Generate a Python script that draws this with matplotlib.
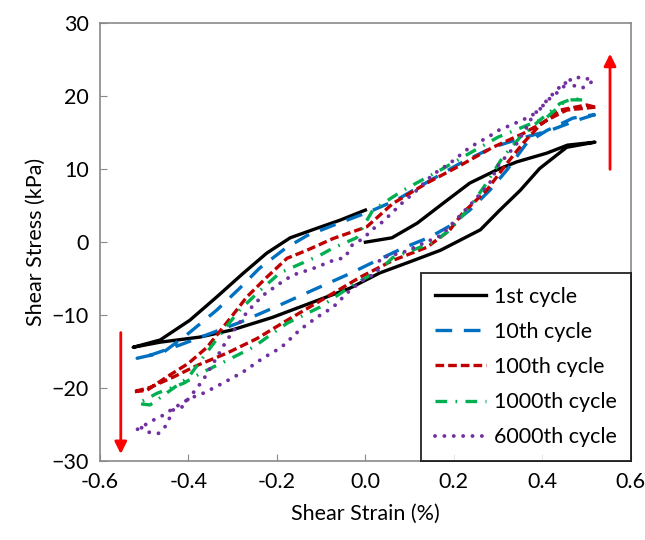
import matplotlib
matplotlib.use("Agg")
from matplotlib import pyplot as plt

plt.rcParams['font.family'] = ['Lato', 'DejaVu Sans']

# 1st cycle
x1 = [0.0, 0.06, 0.117, 0.175, 0.236, 0.297, 0.342, 0.41, 0.457, 0.519,
      0.455, 0.394, 0.35, 0.304, 0.26, 0.17, 0.10, 0.033, -0.035, -0.118, -0.21, -0.30, -0.374, -0.464, -0.525,
      -0.464, -0.397, -0.336, -0.277, -0.223, -0.17, -0.11, -0.058, 0.0]
y1 = [0.0, 0.6, 2.6, 5.3, 8.1, 9.9, 11.0, 12.2, 13.3, 13.7,
      13.0, 10.1, 7.1, 4.4, 1.7, -1.1, -2.7, -4.2, -6.3, -8.2, -10.3, -12.0, -13.0, -13.7, -14.4,
      -13.4, -10.7, -7.5, -4.3, -1.5, 0.6, 1.9, 3.0, 4.4]

# 10th cycle
x10 = [0.52, 0.478, 0.417, 0.35, 0.288, 0.214, 0.139, 0.071, 0.01, -0.073, -0.132, -0.18, -0.24, -0.284,
       -0.336, -0.40, -0.457, -0.516, -0.487, -0.42, -0.35, -0.284, -0.193, -0.12, -0.035, 0.026, 0.085,
       0.146, 0.19, 0.236, 0.281, 0.32, 0.365, 0.41, 0.469, 0.52]
y10 = [17.5, 16.7, 15.3, 14.2, 13.0, 10.8, 8.2, 5.8, 4.2, 2.3, 0.9, -0.8, -3.6, -6.3,
       -9.3, -12.5, -15.1, -15.9, -15.5, -14.1, -12.5, -11.0, -8.6, -6.6, -4.3, -2.5, -0.8,
       0.7, 2.2, 4.4, 7.1, 9.9, 13.6, 15.3, 17.0, 17.5]

# 100th cycle
x100 = [0.52, 0.455, 0.41, 0.357, 0.288, 0.214, 0.139, 0.062, 0.003, -0.073, -0.132, -0.177, -0.223,
        -0.268, -0.313, -0.358, -0.40, -0.45, -0.494, -0.525, -0.487, -0.435, -0.381, -0.313, -0.245,
        -0.177, -0.087, -0.012, 0.062, 0.139, 0.19, 0.22, 0.274, 0.32, 0.357, 0.394, 0.44, 0.5, 0.52]
y100 = [18.5, 18.1, 16.7, 14.9, 13.0, 10.5, 8.1, 5.3, 2.1, 0.5, -1.1, -2.2, -4.8,
        -7.5, -11.0, -14.4, -16.6, -18.5, -20.3, -20.5, -19.9, -18.5, -16.9, -15.2, -13.2,
        -10.7, -7.5, -4.8, -2.5, -0.7, 1.6, 4.0, 7.1, 10.8, 13.6, 16.0, 18.1, 18.8, 18.5]

# 1000th cycle
x1000 = [0.49, 0.455, 0.41, 0.365, 0.30, 0.236, 0.17, 0.085, 0.017, -0.02, -0.073, -0.103, -0.193,
         -0.238, -0.284, -0.32, -0.367, -0.40, -0.45, -0.487, -0.514, -0.471, -0.41, -0.374, -0.313,
         -0.254, -0.177, -0.103, -0.029, 0.033, 0.062, 0.15, 0.19, 0.236, 0.274, 0.31, 0.35, 0.394,
         0.44, 0.47, 0.49]
y1000 = [19.5, 19.5, 17.1, 16.0, 14.4, 12.2, 9.9, 7.1, 4.4, 0.6, -0.8, -1.8, -4.2,
         -6.6, -9.3, -12.0, -15.8, -18.5, -20.7, -22.3, -22.1, -20.7, -19.3, -18.0, -16.2,
         -14.4, -11.1, -8.9, -5.9, -3.8, -2.1, -0.1, 1.6, 4.8, 8.1, 11.6, 14.4, 16.7,
         19.0, 19.7, 19.5]

# 6000th cycle
x6000 = [0.51, 0.49, 0.447, 0.433, 0.413, 0.398, 0.377, 0.354, 0.30, 0.28, 0.236, 0.195, 0.151, 0.116,
         0.078, 0.06, 0.037, 0.017, -0.005, -0.03, -0.046, -0.073, -0.118, -0.164, -0.19, -0.232,
         -0.268, -0.284, -0.313, -0.34, -0.367, -0.385, -0.415, -0.435, -0.45, -0.468, -0.494,
         -0.505, -0.52, -0.48, -0.457, -0.435, -0.397, -0.367, -0.344, -0.322, -0.277, -0.232, -0.19,
         -0.148, -0.11, -0.073, -0.035, -0.005, 0.026, 0.033, 0.085, 0.17, 0.21, 0.243, 0.281, 0.30,
         0.32, 0.34, 0.365, 0.379, 0.398, 0.417, 0.44, 0.469, 0.5, 0.51]
y6000 = [21.9, 21.1, 21.9, 20.8, 19.7, 18.4, 17.4, 16.7, 15.3, 14.5, 13.0, 11.0, 9.2, 7.1,
         5.1, 4.0, 2.7, 1.8, 0.5, -0.4, -2.1, -2.5, -3.6, -4.5, -5.5, -7.3,
         -9.6, -11.0, -13.4, -16.2, -18.9, -20.3, -22.6, -23.0, -25.1, -26.2, -26.0,
         -25.4, -25.8, -24.4, -23.7, -22.8, -21.4, -20.7, -20.0, -19.3, -17.8, -15.9, -14.4,
         -12.0, -10.3, -8.9, -6.6, -5.2, -4.2, -2.2, -1.4, 0.9, 3.4, 5.5, 8.1, 10.5,
         11.9, 13.3, 15.8, 17.4, 18.5, 19.7, 20.8, 22.6, 22.5, 21.9]

xticks = [-0.6, -0.4, -0.2, 0.0, 0.2, 0.4, 0.6]
yticks = [-30, -20, -10, 0, 10, 20, 30]

fig = plt.figure(figsize=(6.45, 5.4), dpi=100)
ax = fig.add_axes([0.155, 0.146, 0.823, 0.811])

lw = 2.4
ax.plot(x1, y1, color='black', lw=lw, label='1st cycle')
ax.plot(x10, y10, color='#0070C0', lw=lw, dashes=(5, 3.5), label='10th cycle')
ax.plot(x100, y100, color='#C00000', lw=lw, dashes=(2.6, 1.2), label='100th cycle')
ax.plot(x1000, y1000, color='#00B050', lw=lw, dashes=(3.5, 2.5, 0.5, 2.5), label='1000th cycle')
ax.plot(x6000, y6000, color='#7030A0', lw=lw + 0.4, dashes=(0.01, 2.4), dash_capstyle='round',
        label='6000th cycle')

# loading direction arrows
ax.annotate('', xy=(0.553, 26.2), xytext=(0.553, 9.6),
            arrowprops=dict(arrowstyle='-|>', color='red', lw=2, mutation_scale=18))
ax.annotate('', xy=(-0.553, -29.4), xytext=(-0.553, -12.0),
            arrowprops=dict(arrowstyle='-|>', color='red', lw=2, mutation_scale=18))

fs = 15.5
ax.set_xlim(-0.6, 0.6)
ax.set_ylim(-30, 30)
ax.set_xticks(xticks)
ax.set_xticklabels([f'{v:.1f}' for v in xticks])
ax.set_yticks(yticks)
ax.tick_params(direction='in', color='#898989', length=5, labelsize=fs, pad=8)
for s in ax.spines.values():
    s.set_color('#898989')
    s.set_linewidth(1.2)

ax.set_xlabel('Shear Strain (%)', fontsize=fs, labelpad=8)
ax.set_ylabel('Shear Stress (kPa)', fontsize=fs, labelpad=4)

leg = ax.legend(loc='lower right', fontsize=fs, fancybox=False, edgecolor='black',
                handlelength=2.4, handletextpad=0.35, borderaxespad=0, labelspacing=0.7,
                borderpad=0.65)
leg.get_frame().set_linewidth(1.4)

fig.savefig('out.png', dpi=100)
